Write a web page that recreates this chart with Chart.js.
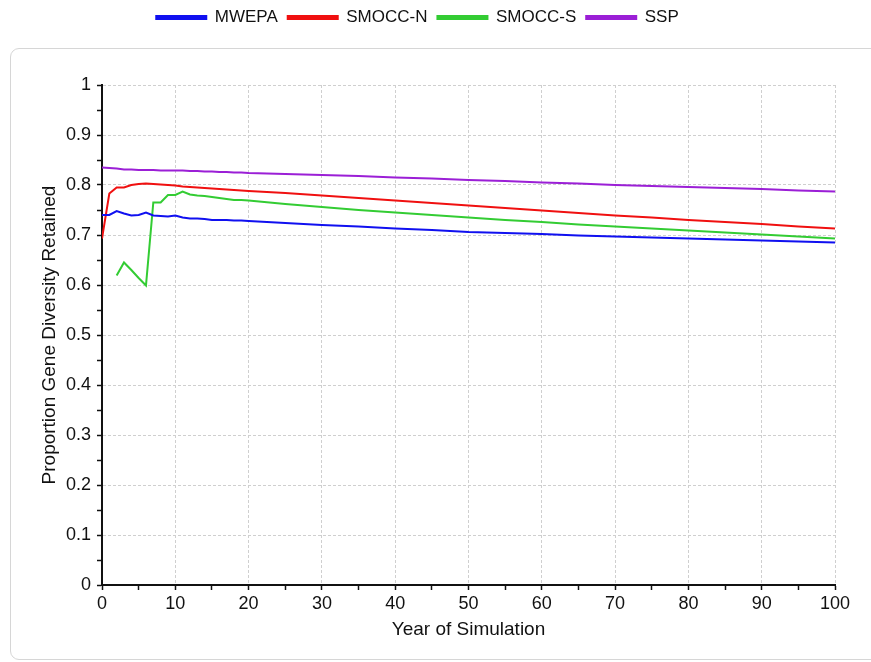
<!DOCTYPE html>
<html>
<head>
<meta charset="utf-8">
<script src="https://cdn.jsdelivr.net/npm/chart.js@4.4.1/dist/chart.umd.min.js"></script>
<style>
  html, body { margin: 0; padding: 0; background: #ffffff; overflow: hidden; }
  #frame { position: absolute; left: 10px; top: 48px; width: 900px; height: 610px;
           border: 1px solid #d6d6d6; border-radius: 9px; }
  #wrap { position: absolute; left: 0; top: 0; width: 871px; height: 662px; }
</style>
</head>
<body>
<div id="frame"></div>
<div id="wrap"><canvas id="c" width="871" height="662"></canvas></div>
<script>
// ---- data ----
const years = [0,1,2,3,4,5,6,7,8,9,10,11,12,13,14,15,16,17,18,19,20,
               25,30,35,40,45,50,55,60,65,70,75,80,85,90,95,100];
const mwepa = [0.740,0.740,0.748,0.743,0.739,0.740,0.745,0.739,0.738,0.737,0.739,0.735,0.733,0.733,0.732,0.730,0.730,0.730,0.729,0.729,0.728,
               0.724,0.720,0.717,0.713,0.710,0.706,0.704,0.702,0.699,0.697,0.695,0.693,0.691,0.689,0.687,0.685];
const smoccN = [0.693,0.783,0.795,0.795,0.800,0.802,0.803,0.802,0.801,0.800,0.799,0.797,0.796,0.795,0.794,0.793,0.792,0.791,0.790,0.789,0.788,
                0.784,0.779,0.774,0.769,0.764,0.759,0.754,0.749,0.744,0.739,0.735,0.730,0.726,0.722,0.717,0.713];
const smoccS = [null,null,0.619,0.645,0.630,0.614,0.599,0.765,0.765,0.780,0.780,0.787,0.781,0.779,0.778,0.776,0.774,0.772,0.770,0.770,0.769,
                0.762,0.756,0.750,0.745,0.740,0.735,0.730,0.726,0.721,0.717,0.713,0.709,0.705,0.701,0.697,0.693];
const ssp = [0.835,0.834,0.833,0.831,0.831,0.830,0.830,0.830,0.829,0.829,0.829,0.829,0.828,0.828,0.827,0.827,0.826,0.826,0.825,0.825,0.824,
             0.822,0.820,0.818,0.815,0.813,0.810,0.808,0.805,0.803,0.800,0.798,0.796,0.794,0.792,0.789,0.787];
const seriesNames = ['MWEPA','SMOCC-N','SMOCC-S','SSP'];
const seriesColors = ['#1010f0','#f01010','#33cc33','#9b1fd6'];
const xTitle = 'Year of Simulation';
const yTitle = 'Proportion Gene Diversity Retained';

const FONT = "'Liberation Sans', Arial, sans-serif";
const pts = arr => years.map((x, i) => ({x: x, y: arr[i]}));
const allSeries = [mwepa, smoccN, smoccS, ssp];

const LEG_H = 85, LEG_DX = 0, LEG_DY = -1;
const legendTweak = {
  id: 'legendTweak',
  afterInit(chart) {
    const lg = chart.legend;
    const f = lg.fit;
    lg.fit = function () { f.call(this); this.height = LEG_H; };
    const d = lg.draw;
    lg.draw = function () {
      const c = this.ctx; c.save(); c.translate(LEG_DX, LEG_DY); d.apply(this, arguments); c.restore();
    };
  }
};

new Chart(document.getElementById('c'), {
  type: 'line',
  data: {
    datasets: allSeries.map((arr, i) => ({
      label: seriesNames[i],
      data: pts(arr),
      borderColor: seriesColors[i],
      backgroundColor: seriesColors[i],
      borderWidth: 2,
      pointRadius: 0,
      tension: 0,
      spanGaps: false
    }))
  },
  plugins: [legendTweak],
  options: {
    responsive: false,
    animation: false,
    layout: { padding: { left: 0, right: 36, top: 0, bottom: 0 } },
    plugins: {
      tooltip: { enabled: false },
      legend: {
        position: 'top',
        align: 'center',
        labels: {
          boxWidth: 50, boxHeight: 3, padding: 10,
          color: '#111', font: { family: FONT, size: 17 }
        }
      }
    },
    scales: {
      x: {
        type: 'linear', min: 0, max: 100,
        afterFit(s) { s.height = 77; },
        ticks: {
          stepSize: 5, autoSkip: false, maxRotation: 0, padding: 3,
          color: '#111', font: { family: FONT, size: 18 },
          callback: v => (Math.round(v) % 10 === 0 ? String(v) : '')
        },
        grid: {
          color: c => (c.tick && Math.round(c.tick.value) % 10 === 0 ? '#cfcfcf' : 'rgba(0,0,0,0)'),
          tickColor: '#111', tickLength: 5, lineWidth: 1, tickWidth: 1.5
        },
        border: { display: true, color: '#111', width: 2, dash: [3, 2] },
        title: { display: true, text: xTitle, color: '#111', font: { family: FONT, size: 19 }, padding: { top: 0, bottom: 21 } }
      },
      y: {
        type: 'linear', min: 0, max: 1,
        afterFit(s) { s.width = 102; },
        ticks: {
          stepSize: 0.05, autoSkip: false, padding: 6,
          color: '#111', font: { family: FONT, size: 18 },
          callback: v => { const k = Math.round(v * 100); return k % 10 === 0 ? String(k / 100) : ''; }
        },
        grid: {
          color: c => (c.tick && Math.round(c.tick.value * 100) % 10 === 0 ? '#cfcfcf' : 'rgba(0,0,0,0)'),
          tickColor: '#111', tickLength: 5, lineWidth: 1, tickWidth: 1.5
        },
        border: { display: true, color: '#111', width: 2, dash: [3, 2] },
        title: { display: true, text: yTitle, color: '#111', font: { family: FONT, size: 19 }, padding: { top: 38, bottom: 0 } }
      }
    }
  }
});
</script>
</body>
</html>
